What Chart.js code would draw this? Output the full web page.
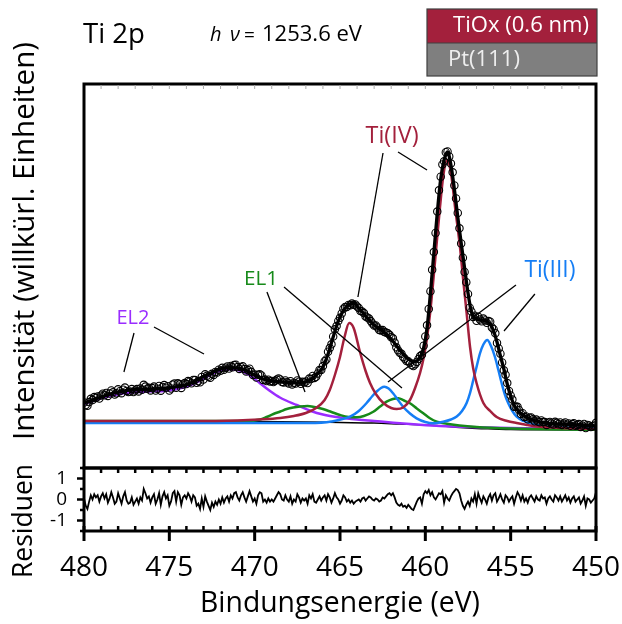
<!DOCTYPE html>
<html>
<head>
<meta charset="utf-8">
<script src="https://cdn.jsdelivr.net/npm/chart.js@4.4.1/dist/chart.umd.min.js"></script>
<style>
  html, body { margin: 0; padding: 0; background: #fff; }
</style>
</head>
<body>
<canvas id="c" width="622" height="624"></canvas>
<script>
// measured spectrum, 480 eV down to 450 eV in 0.1 eV steps (intensity in arb. units)
const energyStart = 480;
const energyStep = 0.1;
const measured = [
  65.5, 62.9, 62.2, 65.9, 69.2, 68.0, 70.9, 70.1, 71.6, 69.5,
  72.4, 74.3, 72.7, 75.1, 72.1, 74.5, 77.6, 75.7, 73.4, 74.7,
  78.7, 76.8, 74.8, 78.3, 80.4, 77.1, 75.9, 76.5, 78.9, 75.9,
  77.4, 78.9, 76.6, 79.4, 78.2, 83.2, 81.4, 79.3, 80.2, 77.6,
  79.9, 81.4, 77.4, 79.3, 82.1, 77.3, 81.0, 82.9, 80.3, 81.8,
  77.5, 79.5, 83.4, 84.5, 80.3, 84.7, 83.7, 80.1, 83.6, 84.9,
  84.0, 86.9, 86.3, 84.7, 88.1, 87.9, 85.2, 87.0, 85.7, 91.1,
  88.4, 93.7, 92.2, 91.2, 90.2, 94.2, 93.1, 96.0, 95.4, 98.3,
  97.2, 100.2, 98.3, 100.3, 101.5, 99.4, 102.1, 100.7, 102.9, 103.3,
  100.9, 99.1, 100.8, 101.7, 98.9, 96.6, 97.9, 99.3, 96.2, 93.0,
  93.5, 90.4, 93.2, 93.8, 92.5, 88.1, 88.6, 86.9, 88.3, 86.5,
  87.0, 86.0, 87.2, 88.4, 89.6, 88.5, 86.1, 85.6, 87.6, 85.7,
  84.6, 86.8, 83.6, 85.3, 84.4, 87.5, 86.3, 84.2, 86.2, 85.4,
  86.5, 85.0, 89.4, 89.0, 92.1, 90.1, 91.2, 94.5, 97.9, 98.1,
  101.9, 106.8, 108.6, 116.3, 119.9, 123.7, 131.5, 138.7, 141.9, 147.0,
  150.2, 154.6, 159.3, 160.9, 161.1, 163.0, 162.7, 164.4, 163.2, 163.6,
  161.6, 160.0, 157.1, 156.5, 154.9, 151.6, 150.5, 149.4, 146.9, 144.5,
  142.6, 142.5, 140.5, 138.1, 137.6, 137.9, 136.0, 135.4, 134.8, 133.2,
  130.8, 129.7, 125.4, 120.7, 117.8, 115.3, 114.2, 110.9, 109.3, 106.9,
  106.8, 104.9, 103.0, 102.0, 103.8, 106.1, 109.0, 111.9, 113.2, 122.3,
  131.6, 142.7, 159.1, 176.8, 198.2, 215.9, 235.0, 256.4, 277.7, 291.3,
  303.6, 306.7, 315.8, 316.5, 311.6, 304.4, 295.7, 282.6, 269.5, 255.1,
  239.7, 224.6, 210.3, 196.0, 185.8, 174.1, 160.3, 156.5, 151.1, 152.3,
  147.2, 151.2, 148.5, 146.7, 149.4, 147.5, 145.2, 146.9, 146.3, 140.6,
  138.8, 134.7, 125.1, 119.5, 114.3, 105.5, 97.7, 93.3, 84.9, 77.1,
  72.5, 68.4, 61.2, 61.4, 61.2, 57.8, 54.1, 54.8, 51.1, 51.5,
  48.7, 50.3, 50.6, 48.7, 46.7, 48.4, 46.6, 45.8, 47.6, 45.9,
  45.9, 43.1, 45.3, 46.1, 44.6, 43.6, 46.2, 45.2, 43.8, 45.5,
  43.1, 44.4, 45.6, 43.3, 44.5, 42.2, 43.9, 44.7, 42.3, 43.1,
  43.9, 41.1, 42.4, 44.0, 39.9, 43.0, 42.4, 41.0, 41.8, 42.6,
  45.2
];
const residuals = [
  0.05, -0.3, -0.45, -0.1, 0.2, 0.0, 0.25, 0.1, 0.2, -0.1,
  0.15, 0.3, 0.05, 0.25, -0.15, 0.05, 0.35, 0.1, -0.2, -0.1,
  0.3, 0.05, -0.2, 0.15, 0.35, -0.05, -0.2, -0.15, 0.1, -0.25,
  -0.1, 0.05, -0.2, 0.1, -0.05, 0.5, 0.3, 0.05, 0.15, -0.15,
  0.1, 0.25, -0.2, 0.0, 0.3, -0.25, 0.15, 0.35, 0.05, 0.2,
  -0.3, -0.1, 0.3, 0.4, -0.1, 0.35, 0.2, -0.25, 0.1, 0.2,
  0.05, 0.3, 0.15, -0.1, 0.2, 0.1, -0.3, -0.2, -0.45, 0.05,
  -0.35, 0.15, -0.1, -0.3, -0.5, -0.15, -0.35, -0.1, -0.25, 0.0,
  -0.2, 0.1, -0.15, 0.05, 0.15, -0.1, 0.2, 0.05, 0.3, 0.35,
  0.1, -0.05, 0.2, 0.35, 0.1, -0.1, 0.15, 0.4, 0.15, -0.1,
  0.05, -0.2, 0.2, 0.35, 0.3, -0.1, 0.0, -0.15, 0.05, -0.1,
  0.0, -0.1, 0.05, 0.2, 0.35, 0.25, 0.0, -0.05, 0.2, 0.0,
  -0.1, 0.15, -0.2, 0.0, -0.1, 0.25, 0.1, -0.15, 0.05, -0.05,
  0.05, -0.2, 0.2, 0.05, 0.25, -0.1, -0.15, 0.0, 0.15, -0.05,
  0.1, 0.2, -0.05, 0.25, 0.1, -0.15, 0.05, 0.3, 0.1, 0.0,
  -0.2, -0.05, 0.2, 0.1, -0.1, 0.0, -0.15, -0.05, -0.2, -0.1,
  -0.05, 0.0, -0.1, 0.05, 0.1, -0.05, 0.05, 0.15, 0.1, 0.0,
  -0.05, 0.05, 0.0, -0.1, -0.05, 0.1, 0.05, 0.15, 0.25, 0.3,
  0.2, 0.3, 0.1, -0.15, -0.25, -0.3, -0.2, -0.35, -0.3, -0.4,
  -0.25, -0.35, -0.45, -0.5, -0.3, -0.1, 0.05, 0.1, -0.2, 0.25,
  0.4, 0.3, 0.45, 0.2, 0.35, 0.1, 0.0, 0.15, 0.3, 0.25,
  0.4, -0.15, 0.2, 0.05, -0.05, 0.15, 0.3, 0.4, 0.5, 0.45,
  0.3, -0.05, -0.3, -0.45, -0.25, -0.1, -0.3, 0.05, -0.1, 0.25,
  -0.2, 0.3, 0.05, -0.15, 0.15, 0.0, -0.2, 0.1, 0.25, -0.05,
  0.2, 0.3, -0.1, 0.05, 0.25, 0.0, -0.15, 0.2, 0.1, -0.1,
  0.05, 0.15, -0.2, 0.1, 0.35, 0.2, -0.05, 0.2, -0.1, 0.05,
  -0.15, 0.1, 0.2, 0.05, -0.1, 0.15, 0.0, -0.05, 0.2, 0.05,
  0.1, -0.2, 0.05, 0.15, 0.0, -0.1, 0.2, 0.1, -0.05, 0.15,
  -0.1, 0.05, 0.2, -0.05, 0.1, -0.15, 0.05, 0.15, -0.1, 0.0,
  0.1, -0.2, -0.05, 0.15, -0.3, 0.05, 0.0, -0.15, -0.05, 0.05,
  0.35
];
const residualTicks = [-1, 0, 1];

// fit envelope
const fitEnergy = [480, 479, 478, 477, 476, 475, 474.5, 474, 473.5, 473, 472.5, 472, 471.5, 471, 470.5, 470,
  469.5, 469, 468.5, 468, 467.5, 467, 466.6, 466.3, 466, 465.7, 465.4, 465.1, 464.8, 464.5, 464.2, 463.9,
  463.5, 463, 462.5, 462, 461.5, 461, 460.7, 460.5, 460.3, 460.1, 459.9, 459.7, 459.5, 459.3, 459.1, 458.9,
  458.7, 458.5, 458.3, 458.1, 457.9, 457.7, 457.5, 457.3, 457.1, 456.8, 456.5, 456.2, 456, 455.8, 455.6,
  455.4, 455.2, 455, 454.8, 454.5, 454, 453.5, 453, 452, 451, 450];
const fitValues = [65, 71, 76, 78.3, 79, 80.2, 81.5, 83.5, 87, 91.5, 95.5, 99, 100.3, 100, 97.5, 93,
  89, 87, 86.3, 85.5, 85.2, 86, 89.8, 94.5, 101, 114, 131, 147, 157.5, 163, 165, 160,
  152, 143, 137, 129, 118, 109, 106.5, 107, 111, 120, 140, 175, 215, 255, 289, 308,
  316, 303, 279, 251, 225, 200, 175, 156, 150, 148, 147.5, 144, 137, 126, 112,
  99, 84, 72, 63, 56, 50, 47, 45, 44, 43, 42];

// Ti(IV) doublet
const tiIVEnergy = [480, 474, 471, 469.7, 468.5, 467.7, 467, 466.4, 465.9, 465.6, 465.3, 465, 464.75, 464.46,
  464.2, 463.83, 463.5, 463.24, 462.9, 462.46, 462, 461.68, 461.3, 460.9, 460.6, 460.31, 460.1, 459.92,
  459.72, 459.53, 459.35, 459.14, 458.95, 458.72, 458.5, 458.26, 457.97, 457.78, 457.58, 457.38, 457.2,
  457, 456.6, 456.2, 455.82, 455.2, 454.65, 454, 453.48, 452, 450];
const tiIV = [47, 47, 47.5, 48.5, 50, 52, 55, 60, 68, 78, 93, 111, 130, 145,
  140, 116, 97, 85, 74, 65, 60, 59, 60.5, 68, 80, 95, 110, 128,
  155, 188, 222, 261, 292, 308, 295, 261, 221, 188, 155, 121, 100,
  85, 65, 57, 51, 47, 45, 43, 41.5, 40, 39];

// Ti(III) doublet
const tiIIIEnergy = [480, 472, 469.7, 466.8, 465.5, 464.41, 463.9, 463.44, 463.1, 462.85, 462.6, 462.4, 462.15,
  461.88, 461.6, 461.29, 460.9, 460.51, 460, 459.53, 458.95, 458.5, 458.16, 457.85, 457.58, 457.38, 457.19,
  457, 456.8, 456.6, 456.37, 456.15, 455.92, 455.72, 455.53, 455.34, 455.14, 454.9, 454.65, 454.25, 453.87,
  453.4, 452.89, 451.5, 450];
const tiIII = [45, 45, 45, 45, 46.5, 51.3, 57, 65, 72, 76.5, 80, 81.3, 79.5,
  74.5, 68, 61, 54.5, 49.7, 46, 44.7, 46.3, 48.5, 51.5, 57, 65, 75, 88,
  101, 114.5, 123.5, 128, 122, 111, 98, 85, 73.5, 64.7, 57, 51.3, 47, 44.7,
  42.7, 41.3, 40.3, 39.7];

// energy loss EL1
const el1Energy = [480, 473, 470.47, 469.69, 469.3, 468.9, 468.5, 468.12, 467.74, 467.35, 466.9, 466.5, 466,
  465.5, 465, 464.5, 464.02, 463.6, 463.05, 462.65, 462.27, 461.9, 461.58, 461.25, 460.9, 460.5, 460.12,
  459.73, 459.33, 459, 458, 457, 455, 452, 450];
const el1 = [47, 47, 47, 48.5, 51, 54, 56.5, 59, 60.5, 61.5, 62, 61, 59,
  56, 53, 51, 50.7, 52, 56.3, 61.5, 66.3, 69, 69.7, 67.5, 64.7, 59.5, 54.7,
  49.7, 46.3, 45, 42.5, 41, 39.5, 38.5, 38.3];

// energy loss EL2
const el2Energy = [480, 479.4, 478.83, 478.2, 477.66, 477, 476.48, 475.9, 475.31, 474.7, 474.14, 473.55,
  472.97, 472.55, 472.19, 471.9, 471.6, 471.2, 470.82, 470.42, 470.04, 469.69, 469.1, 468.52, 467.54,
  466.7, 466, 465, 464, 463, 461.88, 460.5, 459.14, 457, 455, 452.5, 450];
const el2 = [64, 67.5, 70.7, 73, 74.7, 75.8, 76.3, 76.7, 77, 78.5, 80.7, 84.5,
  89.7, 93.5, 96.3, 97.8, 98.7, 98.5, 97.3, 94, 89.7, 84.7, 77, 70.5, 63,
  57, 53.5, 50.5, 48.5, 47, 45.3, 43.5, 42, 40.8, 40, 39.2, 38.7];

// Shirley background
const bgEnergy = [480, 475, 470, 467, 465, 463, 461.5, 460, 459, 458, 457, 456, 455, 453, 450];
const bg = [47, 47, 46.5, 46, 45.5, 45, 44, 43, 42, 40.5, 39.5, 39, 38.5, 38.2, 38];

const FONT = "'Open Sans', sans-serif";
const RED = '#a3203c';
const BLUE = '#157ef5';
const GREEN = '#178a1a';
const PURPLE = '#9a2dff';

const pts = (xs, ys) => xs.map((e, i) => ({ x: e, y: ys[i] }));
const gridPts = ys => ys.map((v, i) => ({ x: energyStart - i * energyStep, y: v }));

const curve = (label, xs, ys, color, width, order) => ({
  label, data: pts(xs, ys), showLine: true, borderColor: color, borderWidth: width,
  pointRadius: 0, cubicInterpolationMode: 'monotone', order, yAxisID: 'y'
});

// size a font so that text fills a given width
function fitSize(ctx, text, width, style) {
  ctx.font = (style || '') + ' 100px ' + FONT;
  return 100 * width / ctx.measureText(text).width;
}

// labels and leader lines in data coordinates
const labels = [
  { text: 'EL2', e: 477.13, v: 150, w: 33, color: PURPLE,
    lines: [[477.07, 135, 477.66, 96], [475.9, 141, 472.97, 114]] },
  { text: 'EL1', e: 469.63, v: 189, w: 34, color: GREEN,
    lines: [[469.28, 176, 467.05, 76], [468.28, 181, 461.37, 80]] },
  { text: 'Ti(IV)', e: 461.95, v: 332, w: 53, color: RED,
    lines: [[462.48, 315, 463.95, 171], [461.6, 316, 459.9, 298]] },
  { text: 'Ti(III)', e: 452.7, v: 198, w: 51, color: BLUE,
    lines: [[454.69, 183, 462.19, 86], [453.58, 174, 455.39, 137]] }
];

const decor = {
  id: 'decor',
  afterDatasetsDraw(chart) {
    const { ctx, scales: { x, y, yr } } = chart;
    const L = x.left, R = x.right;
    ctx.save();

    // leader lines + labels
    labels.forEach(lb => {
      ctx.strokeStyle = '#000';
      ctx.lineWidth = 1.3;
      lb.lines.forEach(l => {
        ctx.beginPath();
        ctx.moveTo(x.getPixelForValue(l[0]), y.getPixelForValue(l[1]));
        ctx.lineTo(x.getPixelForValue(l[2]), y.getPixelForValue(l[3]));
        ctx.stroke();
      });
      const s = fitSize(ctx, lb.text, lb.w);
      ctx.font = s + 'px ' + FONT;
      ctx.fillStyle = lb.color;
      ctx.textAlign = 'center';
      ctx.textBaseline = 'middle';
      ctx.fillText(lb.text, x.getPixelForValue(lb.e), y.getPixelForValue(lb.v));
    });

    // frames
    ctx.strokeStyle = '#000';
    ctx.lineWidth = 3;
    ctx.strokeRect(L, y.top, R - L, y.bottom - y.top);
    ctx.strokeRect(L, yr.top, R - L, yr.bottom - yr.top);

    // x ticks
    for (let e = 451; e < 480; e++) {
      const px = x.getPixelForValue(e);
      ctx.strokeStyle = '#aaa';
      ctx.lineWidth = 1;
      ctx.beginPath(); ctx.moveTo(px, y.top + 1); ctx.lineTo(px, y.top + 5); ctx.stroke();
      ctx.strokeStyle = '#000';
      ctx.lineWidth = 2.5;
      ctx.beginPath(); ctx.moveTo(px, yr.top); ctx.lineTo(px, yr.top + 5); ctx.stroke();
      if (e % 5 !== 0) {
        ctx.beginPath(); ctx.moveTo(px, yr.bottom); ctx.lineTo(px, yr.bottom - 5); ctx.stroke();
      }
    }
    ctx.lineWidth = 3;
    for (let e = 450; e <= 480; e += 5) {
      const px = x.getPixelForValue(e);
      ctx.beginPath(); ctx.moveTo(px, yr.bottom - 5); ctx.lineTo(px, yr.bottom + 10); ctx.stroke();
    }
    // residual y ticks
    [-1.5, -1, -0.5, 0, 0.5, 1, 1.5].forEach(v => {
      const py = yr.getPixelForValue(v);
      const major = Number.isInteger(v);
      ctx.lineWidth = 2.5;
      ctx.beginPath(); ctx.moveTo(L, py); ctx.lineTo(L - (major ? 7 : 4), py); ctx.stroke();
    });

    // axis titles
    ctx.fillStyle = '#000';
    ctx.textAlign = 'center';
    ctx.textBaseline = 'middle';
    let s = fitSize(ctx, 'Bindungsenergie (eV)', 280);
    ctx.font = s + 'px ' + FONT;
    ctx.fillText('Bindungsenergie (eV)', (L + R) / 2, 604);

    const rot = (text, cx, cy, w) => {
      const fs = fitSize(ctx, text, w);
      ctx.save();
      ctx.translate(cx, cy);
      ctx.rotate(-Math.PI / 2);
      ctx.font = fs + 'px ' + FONT;
      ctx.fillText(text, 0, 0);
      ctx.restore();
    };
    rot('Intensität (willkürl. Einheiten)', 26, 241, 398);
    rot('Residuen', 24, 521, 114);

    // header texts
    ctx.textAlign = 'left';
    ctx.textBaseline = 'alphabetic';
    s = fitSize(ctx, 'Ti 2p', 62);
    ctx.font = s + 'px ' + FONT;
    ctx.fillText('Ti 2p', 83, 43);

    ctx.font = 'italic 20px ' + FONT;
    ctx.fillText('h', 210, 41);
    ctx.fillText('ν', 230, 41);
    ctx.font = '19px ' + FONT;
    ctx.fillText('=', 244, 41);
    s = fitSize(ctx, '1253.6 eV', 100);
    ctx.font = s + 'px ' + FONT;
    ctx.fillText('1253.6 eV', 262, 41);

    // sample sketch boxes
    ctx.fillStyle = RED;
    ctx.fillRect(427, 9, 170, 34);
    ctx.fillStyle = '#7f7f7f';
    ctx.fillRect(427, 43, 170, 33);
    ctx.strokeStyle = '#404040';
    ctx.lineWidth = 1.2;
    ctx.strokeRect(427, 9, 170, 67);
    ctx.beginPath(); ctx.moveTo(427, 43); ctx.lineTo(597, 43); ctx.stroke();
    ctx.fillStyle = '#fff';
    s = fitSize(ctx, 'TiOx (0.6 nm)', 136);
    ctx.font = s + 'px ' + FONT;
    ctx.textBaseline = 'middle';
    ctx.fillText('TiOx (0.6 nm)', 453, 26);
    ctx.fillStyle = '#eee';
    s = fitSize(ctx, 'Pt(111)', 72);
    ctx.font = s + 'px ' + FONT;
    ctx.fillText('Pt(111)', 448, 60);

    ctx.restore();
  }
};

const ctx0 = document.getElementById('c').getContext('2d');
const tickSize = fitSize(ctx0, '480', 48);

new Chart(ctx0, {
  type: 'scatter',
  data: {
    datasets: [
      curve('Fit', fitEnergy, fitValues, '#000', 3.3, 0),
      {
        label: 'Messung', data: gridPts(measured), showLine: false, yAxisID: 'y', order: 1,
        pointRadius: 3.7, pointBorderWidth: 1.1, pointBorderColor: '#000',
        pointBackgroundColor: 'rgba(255,255,255,0)'
      },
      curve('Ti(IV)', tiIVEnergy, tiIV, RED, 2.5, 2),
      curve('Ti(III)', tiIIIEnergy, tiIII, BLUE, 2.5, 3),
      curve('EL1', el1Energy, el1, GREEN, 2.5, 4),
      curve('EL2', el2Energy, el2, PURPLE, 2.5, 5),
      curve('Untergrund', bgEnergy, bg, '#000', 1.5, 6),
      {
        label: 'Residuen', data: gridPts(residuals), showLine: true, yAxisID: 'yr', order: 0,
        borderColor: '#000', borderWidth: 1.8, pointRadius: 0, tension: 0
      }
    ]
  },
  options: {
    responsive: false,
    animation: false,
    devicePixelRatio: 1,
    layout: { padding: { top: 84, right: 26, left: 0, bottom: 0 } },
    plugins: { legend: { display: false }, tooltip: { enabled: false } },
    scales: {
      x: {
        type: 'linear', reverse: true, min: 450, max: 480, position: 'bottom',
        grid: { display: false }, border: { display: false },
        ticks: { stepSize: 5, color: '#000', padding: 12, font: { family: FONT, size: tickSize } },
        afterFit: s => { s.height = 93; s.paddingLeft = 0; s.paddingRight = 0; }
      },
      yr: {
        type: 'linear', position: 'left', stack: 'panels', stackWeight: 63,
        min: -1.5, max: 1.5,
        grid: { display: false }, border: { display: false },
        ticks: { autoSkip: false, color: '#000', padding: 9, font: { family: FONT, size: 19 } },
        afterBuildTicks: s => { s.ticks = residualTicks.map(v => ({ value: v })); },
        afterFit: s => { s.width = 84; s.paddingTop = 0; s.paddingBottom = 0; }
      },
      y: {
        type: 'linear', position: 'left', stack: 'panels', stackWeight: 384,
        min: 0, max: 384,
        grid: { display: false }, border: { display: false },
        ticks: { display: false },
        afterFit: s => { s.width = 84; s.paddingTop = 0; s.paddingBottom = 0; }
      }
    }
  },
  plugins: [decor]
});
</script>
</body>
</html>
